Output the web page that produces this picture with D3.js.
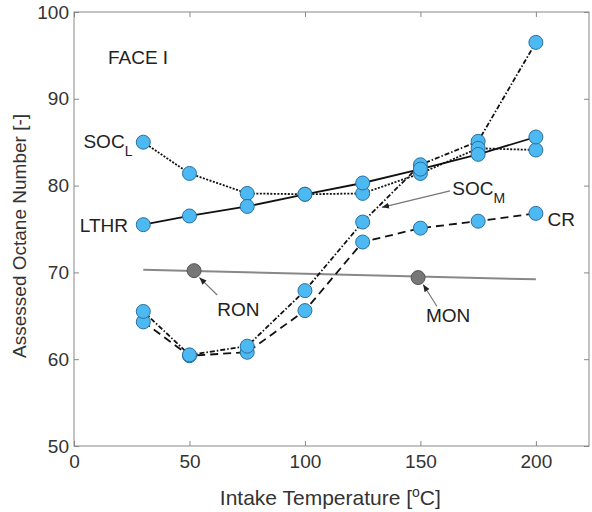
<!DOCTYPE html>
<html lang="en">
<head>
    <meta charset="UTF-8">
    <title>Assessed Octane Number</title>
    <style>
        body {
            margin: 0;
            background: #ffffff;
            font-family: "Liberation Sans", Arial, sans-serif;
        }
        .axis path, .axis line {
            stroke: #888;
        }
        .axis text {
            font-size: 19px;
            fill: #333;
            font-family: "Liberation Sans", Arial, sans-serif;
        }
        .note {
            font-size: 19px;
            fill: #222;
        }
    </style>
</head>
<body>
    <svg id="chart" width="592" height="512"></svg>

    <script src="https://d3js.org/d3.v7.min.js"></script>
    <script>
        // intake temperatures
        const temps = [30, 50, 75, 100, 125, 150, 175, 200];

        // assessed octane numbers per method
        const lthr = [75.5, 76.5, 77.6, 79.0, 80.3, 81.9, 83.6, 85.6];
        const socL = [85.0, 81.4, 79.1, 79.0, 79.1, 81.4, 84.3, 84.1];
        const socM = [65.5, 60.5, 61.5, 67.9, 75.8, 82.4, 85.1, 96.5];
        const cr   = [64.3, 60.4, 60.8, 65.6, 73.5, 75.1, 75.9, 76.8];

        // RON / MON reference line and points
        const refLineX = [30, 200];
        const refLineY = [70.3, 69.2];
        const ronPoint = [52, 70.2];
        const monPoint = [149, 69.4];

        const xTicks = [0, 50, 100, 150, 200];
        const yTicks = [50, 60, 70, 80, 90, 100];

        const margin = { top: 12, right: 3, bottom: 66, left: 74 },
              width = 592 - margin.left - margin.right,
              height = 512 - margin.top - margin.bottom;

        const svg = d3.select("#chart")
            .append("g")
            .attr("transform", `translate(${margin.left},${margin.top})`);

        const x = d3.scaleLinear().domain([0, 223]).range([0, width]);
        const y = d3.scaleLinear().domain([50, 100]).range([height, 0]);

        // box
        svg.append("rect")
            .attr("width", width)
            .attr("height", height)
            .attr("fill", "none")
            .attr("stroke", "#888");

        svg.append("g")
            .attr("class", "axis")
            .attr("transform", `translate(0,${height})`)
            .call(d3.axisBottom(x).tickValues(xTicks).tickSize(-5).tickPadding(9))
            .call(g => g.select(".domain").remove());

        svg.append("g")
            .attr("class", "axis")
            .call(d3.axisTop(x).tickValues(xTicks).tickSize(-5).tickFormat(""))
            .call(g => g.select(".domain").remove());

        svg.append("g")
            .attr("class", "axis")
            .call(d3.axisLeft(y).tickValues(yTicks).tickSize(-5).tickPadding(5))
            .call(g => g.select(".domain").remove());

        svg.append("g")
            .attr("class", "axis")
            .attr("transform", `translate(${width},0)`)
            .call(d3.axisRight(y).tickValues(yTicks).tickSize(-5).tickFormat(""))
            .call(g => g.select(".domain").remove());

        // axis labels
        const xl = svg.append("text")
            .attr("x", x(111))
            .attr("y", height + 59)
            .attr("text-anchor", "middle")
            .style("font-size", "21px")
            .style("fill", "#333");
        xl.append("tspan").text("Intake Temperature [");
        xl.append("tspan").attr("dy", -8).style("font-size", "14px").text("o");
        xl.append("tspan").attr("dy", 8).text("C]");

        svg.append("text")
            .attr("transform", `translate(-48,${y(74.2)}) rotate(-90)`)
            .attr("text-anchor", "middle")
            .style("font-size", "19px")
            .style("fill", "#333")
            .text("Assessed Octane Number [-]");

        const line = d3.line()
            .x((d, i) => x(temps[i]))
            .y(d => y(d));

        // reference line
        svg.append("line")
            .attr("x1", x(refLineX[0])).attr("y1", y(refLineY[0]))
            .attr("x2", x(refLineX[1])).attr("y2", y(refLineY[1]))
            .attr("stroke", "#888")
            .attr("stroke-width", 2);

        const series = [
            { values: cr, dash: "8,5" },
            { values: socM, dash: "5,2,1.5,2" },
            { values: socL, dash: "2,1.5" },
            { values: lthr, dash: null }
        ];

        series.forEach(s => {
            svg.append("path")
                .datum(s.values)
                .attr("d", line)
                .attr("fill", "none")
                .attr("stroke", "#111")
                .attr("stroke-width", 1.8)
                .attr("stroke-dasharray", s.dash);
        });

        // annotation arrows
        svg.append("defs").append("marker")
            .attr("id", "arrow")
            .attr("viewBox", "0 0 10 10")
            .attr("refX", 10).attr("refY", 5)
            .attr("markerWidth", 6).attr("markerHeight", 6)
            .attr("orient", "auto")
            .append("path")
            .attr("d", "M0,1 L10,5 L0,9 z")
            .attr("fill", "#222");

        const arrows = [
            { from: [62, 67.4], to: [54.3, 69.4] },
            { from: [157.1, 66.1], to: [151.2, 68.6] },
            { from: [162.8, 79.4], to: [133.3, 77.5] }
        ];
        arrows.forEach(a => {
            svg.append("line")
                .attr("x1", x(a.from[0])).attr("y1", y(a.from[1]))
                .attr("x2", x(a.to[0])).attr("y2", y(a.to[1]))
                .attr("stroke", "#777")
                .attr("stroke-width", 1.2)
                .attr("marker-end", "url(#arrow)");
        });

        // markers
        series.forEach(s => {
            svg.selectAll(null)
                .data(s.values)
                .enter().append("circle")
                .attr("cx", (d, i) => x(temps[i]))
                .attr("cy", d => y(d))
                .attr("r", 7)
                .attr("fill", "#4cb9f2")
                .attr("stroke", "#2b6f9e")
                .attr("stroke-width", 1);
        });

        [ronPoint, monPoint].forEach(p => {
            svg.append("circle")
                .attr("cx", x(p[0]))
                .attr("cy", y(p[1]))
                .attr("r", 7)
                .attr("fill", "#777")
                .attr("stroke", "#555")
                .attr("stroke-width", 1);
        });

        // text notes
        svg.append("text").attr("class", "note")
            .attr("x", x(14.7)).attr("y", y(94.0))
            .text("FACE I");

        const socLText = svg.append("text").attr("class", "note")
            .attr("x", x(25.3)).attr("y", y(84.3))
            .attr("text-anchor", "end");
        socLText.append("tspan").text("SOC");
        socLText.append("tspan").attr("dy", 8).style("font-size", "14px").text("L");

        svg.append("text").attr("class", "note")
            .attr("x", x(23.4)).attr("y", y(74.7))
            .attr("text-anchor", "end")
            .text("LTHR");

        svg.append("text").attr("class", "note")
            .attr("x", x(62)).attr("y", y(65.0))
            .text("RON");

        svg.append("text").attr("class", "note")
            .attr("x", x(152.4)).attr("y", y(64.3))
            .text("MON");

        const socMText = svg.append("text").attr("class", "note")
            .attr("x", x(163.8)).attr("y", y(78.9));
        socMText.append("tspan").text("SOC");
        socMText.append("tspan").attr("dy", 8).style("font-size", "14px").text("M");

        svg.append("text").attr("class", "note")
            .attr("x", x(205)).attr("y", y(75.3))
            .text("CR");
    </script>
</body>
</html>
